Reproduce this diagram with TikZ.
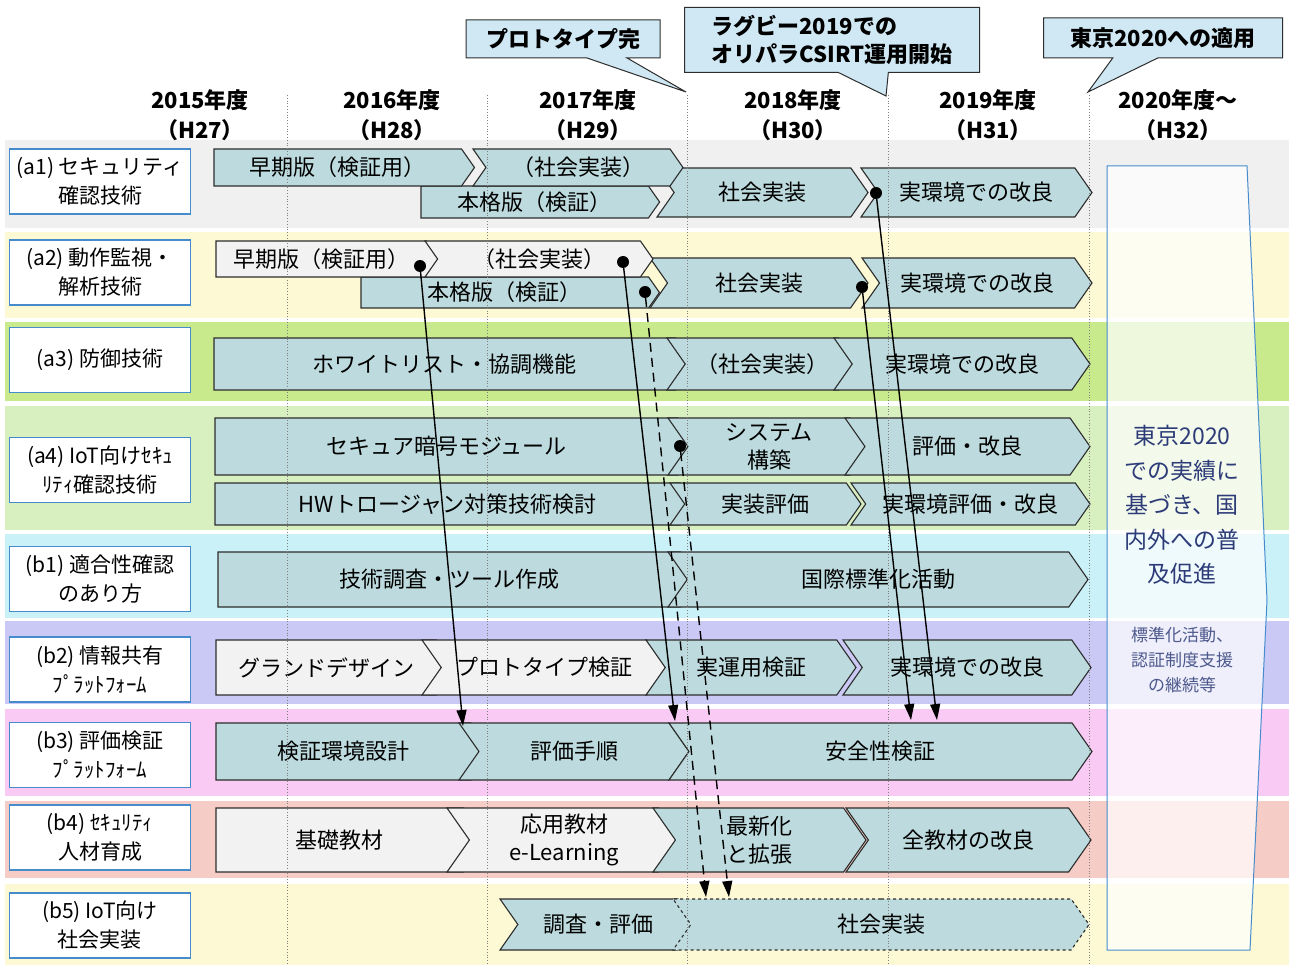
\documentclass[tikz,border=0pt]{standalone}
\usepackage{fontspec}
\setmainfont{Noto Sans CJK JP}
\usetikzlibrary{shapes.symbols, shapes.callouts, arrows.meta}

\definecolor{barteal}{RGB}{189,219,222}
\definecolor{barwhite}{RGB}{242,242,242}
\definecolor{barline}{RGB}{45,45,45}
\definecolor{labelblue}{RGB}{70,140,205}
\definecolor{calloutblue}{RGB}{208,232,244}
\definecolor{textblue}{RGB}{45,60,120}
\definecolor{rowgray}{RGB}{240,240,240}
\definecolor{rowyellow}{RGB}{252,249,212}
\definecolor{rowgreen}{RGB}{200,234,140}
\definecolor{rowmint}{RGB}{216,240,192}
\definecolor{rowcyan}{RGB}{202,240,248}
\definecolor{rowviolet}{RGB}{202,200,244}
\definecolor{rowpink}{RGB}{248,202,244}
\definecolor{rowsalmon}{RGB}{246,204,198}

\begin{document}
\begin{tikzpicture}[x=1pt, y=-1pt,
    bar/.style={signal, signal to=east, signal pointer angle=110, draw=barline, line width=1.1pt, inner sep=0pt, align=center, font=\fontsize{22}{28}\selectfont},
    rowlabel/.style={draw=labelblue, line width=1.4pt, fill=white, inner sep=0pt, minimum width=181pt, minimum height=65pt, align=center, font=\fontsize{21}{29}\selectfont},
    callbox/.style={rectangle callout, draw=barline, line width=1pt, fill=calloutblue, inner sep=0pt, align=left, font=\bfseries\fontsize{22}{28}\selectfont},
    yearlabel/.style={align=center, font=\bfseries\fontsize{22}{30}\selectfont},
    dot/.style={circle, fill=black, inner sep=0pt, minimum size=12pt},
    flow/.style={line width=1.4pt, -{Triangle[length=16pt,width=10pt]}},
    plan/.style={flow, dash pattern=on 9pt off 6pt}]

    \useasboundingbox (0,0) rectangle (1289,965);
    \fill[white] (0,0) rectangle (1289,965);

    % Draw the row stripes
    \foreach \ya/\yb/\c in {140/228/rowgray, 232/318/rowyellow, 322/401/rowgreen, 406/530/rowmint, 534/618/rowcyan, 621/704/rowviolet, 709/796/rowpink, 801/878/rowsalmon, 884/965/rowyellow}
      \fill[\c] (5,\ya) rectangle (1289,\yb);

    % Row labels
    \foreach \n/\y/\t in {la1/181.5/{(a1) セキュリティ\\確認技術}, la2/272.5/{(a2) 動作監視・\\解析技術}, la3/360/{(a3) 防御技術}, la4/470/{(a4) IoT向けｾｷｭ\\ﾘﾃｨ確認技術}, lb1/579/{(b1) 適合性確認\\のあり方}, lb2/669.5/{(b2) 情報共有\\ﾌﾟﾗｯﾄﾌｫｰﾑ}, lb3/755/{(b3) 評価検証\\ﾌﾟﾗｯﾄﾌｫｰﾑ}, lb4/837.5/{(b4) ｾｷｭﾘﾃｨ\\人材育成}, lb5/925.5/{(b5) IoT向け\\社会実装}}
      \node[rowlabel] (\n) at (100,\y) {\t};

    % Draw the 2020 arrow
    \draw[labelblue, line width=1pt, fill=white, fill opacity=0.7] (1107,166) -- (1247,166) -- (1267,600) -- (1250,950) -- (1107,950) -- cycle;
    \node[textblue, align=center, font=\fontsize{23}{34.5}\selectfont] (tokyo) at (1182,505) {東京2020\\での実績に\\基づき、国\\内外への普\\及促進};
    \node[textblue!85, align=center, font=\fontsize{17}{25}\selectfont] (hyojun) at (1182,660) {標準化活動、\\認証制度支援\\の継続等};

    % Draw the bars (flat-left bars get a small inset correction)
    \foreach \n/\xa/\xb/\ya/\yb/\c/\f/\k/\s/\t in {
        a1s/657/868/168/217/barteal/west/0/solid/{社会実装},
        a1k/861/1092/168/217/barteal/west/0/solid/{実環境での改良},
        a1h/421/654/186/218/barteal/nowhere/1/solid/{本格版（検証）},
        a1e/214/468/149/186/barteal/nowhere/1/solid/{早期版（検証用）},
        a1j/473/683/149/186/barteal/west/0/solid/{（社会実装）},
        a2s/650/868/258/308/barteal/west/0/solid/{社会実装},
        a2k/862/1092/258/308/barteal/west/0/solid/{実環境での改良},
        a2h/361/654/277/308/barteal/nowhere/1/solid/{本格版（検証）},
        a2e/216/433/241/277/barwhite/nowhere/1/solid/{早期版（検証用）},
        a2j/425/653/241/277/barwhite/west/0/solid/{（社会実装）},
        a3w/214/685/338/390/barteal/nowhere/1/solid/{ホワイトリスト・協調機能},
        a3j/667/857/338/390/barteal/west/0/solid/{（社会実装）},
        a3k/834/1090/338/390/barteal/west/0/solid/{実環境での改良},
        a4m/215/688/418/475/barteal/nowhere/1/solid/{セキュア暗号モジュール},
        a4s/668/870/418/475/barteal/west/0/solid/{システム\\構築},
        a4e/845/1090/418/475/barteal/west/0/solid/{評価・改良},
        a4h/215/688/483/525/barteal/nowhere/1/solid/{HWトロージャン対策技術検討},
        a4i/670/861/483/525/barteal/west/0/solid/{実装評価},
        a4k/851/1090/483/525/barteal/west/0/solid/{実環境評価・改良},
        b1t/218/690/552/607/barteal/nowhere/1/solid/{技術調査・ツール作成},
        b1i/668/1088/552/607/barteal/west/0/solid/{国際標準化活動},
        b2g/216/446/640/695/barwhite/nowhere/1/solid/{グランドデザイン},
        b2p/422/666/640/695/barwhite/west/0/solid/{プロトタイプ検証},
        b2u/646/856/640/695/barteal/west/0/solid/{実運用検証},
        b2k/843/1091/640/695/barteal/west/0/solid/{実環境での改良},
        b3d/216/481/723/780/barteal/nowhere/1/solid/{検証環境設計},
        b3p/459/689/723/780/barteal/west/0/solid/{評価手順},
        b3a/669/1092/723/780/barteal/west/0/solid/{安全性検証},
        b4k/216/475/808/872/barwhite/nowhere/1/solid/{基礎教材},
        b4o/447/681/808/872/barwhite/west/0/solid/{応用教材\\e-Learning},
        b4n/653/866/808/872/barteal/west/0/solid/{最新化\\と拡張},
        b4z/846/1091/808/872/barteal/west/0/solid/{全教材の改良},
        b5c/500/696/899/950/barteal/west/0/solid/{調査・評価},
        b5s/673/1089/899/950/barteal/west/0/dashed/{社会実装}}
    {
      \pgfmathsetmacro\ins{\k*(\yb-\ya)*0.175}
      \node[bar, fill=\c, signal from=\f, \s, minimum width={(\xb-\xa+\ins)*1pt}, minimum height={(\yb-\ya)*1pt}] (\n) at ({(\xa+\xb-\ins)/2},{(\ya+\yb)/2}) {\t};
    }

    % Draw the year borders
    \foreach \x in {287,487,687,888,1089} \draw[gray, dotted, line width=0.8pt] (\x,95) -- (\x,965);

    % Year headers
    \foreach \n/\x/\yr/\h in {y15/200/2015/27, y16/392/2016/28, y17/588/2017/29, y18/793/2018/30, y19/988/2019/31}
      \node[yearlabel] (\n) at (\x,115) {\yr 年度\\（H\h）};
    \node[yearlabel] (y20) at (1178,115) {2020年度～\\（H32）};

    % Callouts
    \node[callbox, minimum width=194pt, minimum height=38pt, callout absolute pointer={(686,92)}, callout pointer width=40pt] (proto) at (563,39) {プロトタイプ完};
    \node[callbox, minimum width=295pt, minimum height=65pt, callout absolute pointer={(886,96)}, callout pointer width=50pt] (rugby) at (832,40) {ラグビー2019での\\オリパラCSIRT運用開始};
    \node[callbox, minimum width=239pt, minimum height=40pt, callout absolute pointer={(1088,92)}, callout pointer width=45pt] (tokyo20) at (1163,38) {東京2020への適用};

    % Draw the links
    \foreach \n/\x/\y in {d1/420/266, d2/623/262, d3/645/292, d4/680/446, d5/876/193, d6/862/287}
      \node[dot] (\n) at (\x,\y) {};
    \foreach \n/\x/\y in {e1/463/726, e2/675/721, e3/706/897, e4/729/897, e5/937/720, e6/911/720}
      \coordinate (\n) at (\x,\y);
    \draw[flow] (d1) -- (e1);
    \draw[flow] (d2) -- (e2);
    \draw[plan] (d3) -- (e3);
    \draw[plan] (d4) -- (e4);
    \draw[flow] (d5) -- (e5);
    \draw[flow] (d6) -- (e6);
\end{tikzpicture}
\end{document}
